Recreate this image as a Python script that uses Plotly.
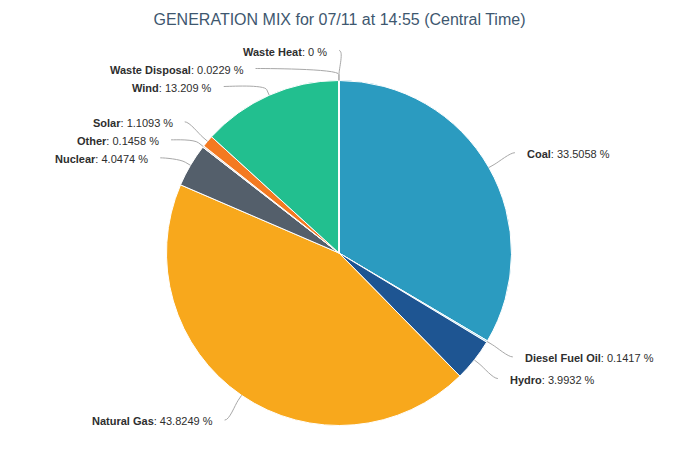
import numpy as np
import plotly.graph_objects as go

# ---- data ----
sources = ["Coal", "Diesel Fuel Oil", "Hydro", "Natural Gas", "Nuclear",
           "Other", "Solar", "Wind", "Waste Disposal", "Waste Heat"]
shares = [33.5058, 0.1417, 3.9932, 43.8249, 4.0474,
          0.1458, 1.1093, 13.209, 0.0229, 0]
colors = ["#2B9BC0", "#8CCFE6", "#1E5592", "#F8A81C", "#545F6B",
          "#E3D5CC", "#F47A21", "#22BF8F", "#8B5A2B", "#E74C3C"]
title_text = "GENERATION MIX for 07/11 at 14:55 (Central Time)"

# ---- geometry (pixels; page body has an 8px margin) ----
OFF = 8
W, H = 680 - OFF, 450 - OFF
cx, cy, r = 339.0 - OFF, 253.0 - OFF, 172.5
dist = 30.0
R = r + dist
spacing = 18.0

vals = np.array(shares, dtype=float)
frac = vals / vals.sum()
cum = np.concatenate([[0], np.cumsum(frac)])
mid = (cum[:-1] + cum[1:]) / 2 * 2 * np.pi  # clockwise from 12 o'clock

left = mid > np.pi - 1e-9
nat_y = cy - np.cos(mid) * R

lab_y = nat_y.copy()
for side in (True, False):
    idx = [i for i in range(len(vals)) if left[i] == side]
    idx.sort(key=lambda i: nat_y[i])
    prev = -1e9
    for i in idx:
        y = max(nat_y[i], prev + spacing)
        lab_y[i] = y
        prev = y

shapes = []
annotations = []
for i, name in enumerate(sources):
    dy = lab_y[i] - cy
    dx = np.sqrt(max(R * R - dy * dy, 0.0))
    lx = cx - dx if left[i] else cx + dx
    ly = lab_y[i]
    tx = cx + np.sin(mid[i]) * r
    ty = cy - np.cos(mid[i]) * r
    bx = cx + np.sin(mid[i]) * (r + 6)
    by = cy - np.cos(mid[i]) * (r + 6)
    c1x = lx + (5 if left[i] else -5)
    path = (f"M {lx:.2f},{ly:.2f} C {c1x:.2f},{ly:.2f} {2*bx-tx:.2f},{2*by-ty:.2f} "
            f"{bx:.2f},{by:.2f} L {tx:.2f},{ty:.2f}")
    shapes.append(dict(type="path", path=path, xref="x", yref="y",
                       line=dict(color="#A8A8A8", width=1), layer="above"))
    annotations.append(dict(
        x=lx - 10 if left[i] else lx + 10, y=ly + 1, xref="x", yref="y",
        text=f"<b>{name}</b>: {shares[i]:g} %", showarrow=False,
        xanchor="right" if left[i] else "left", yanchor="middle",
        font=dict(family="Liberation Sans, Arial, sans-serif", size=11, color="#2E2E2E")))

fig = go.Figure()
fig.add_trace(go.Pie(
    labels=sources, values=shares, sort=False, direction="clockwise", rotation=0,
    marker=dict(colors=colors, line=dict(color="#FFFFFF", width=1)),
    textinfo="none", showlegend=False,
    domain=dict(x=[(cx - r) / W, (cx + r) / W], y=[1 - (cy + r) / H, 1 - (cy - r) / H]),
))
# invisible pixel-space axes for labels/connectors
fig.add_trace(go.Scatter(x=[0, W], y=[0, H], mode="markers",
                         marker=dict(opacity=0), hoverinfo="skip", showlegend=False))

fig.update_layout(
    width=W, height=H,
    margin=dict(l=0, r=0, t=0, b=0),
    paper_bgcolor="#FFFFFF", plot_bgcolor="rgba(0,0,0,0)",
    title=dict(text=title_text, x=(339.5 - OFF) / W, xanchor="center",
               y=1 - (19 - OFF) / H, yanchor="middle", yref="container",
               font=dict(family="Liberation Sans, Arial, sans-serif", size=16, color="#3E576F")),
    xaxis=dict(range=[0, W], visible=False, fixedrange=True, domain=[0, 1]),
    yaxis=dict(range=[H, 0], visible=False, fixedrange=True, domain=[0, 1]),
    shapes=shapes, annotations=annotations,
)
fig.write_html("out.html")
